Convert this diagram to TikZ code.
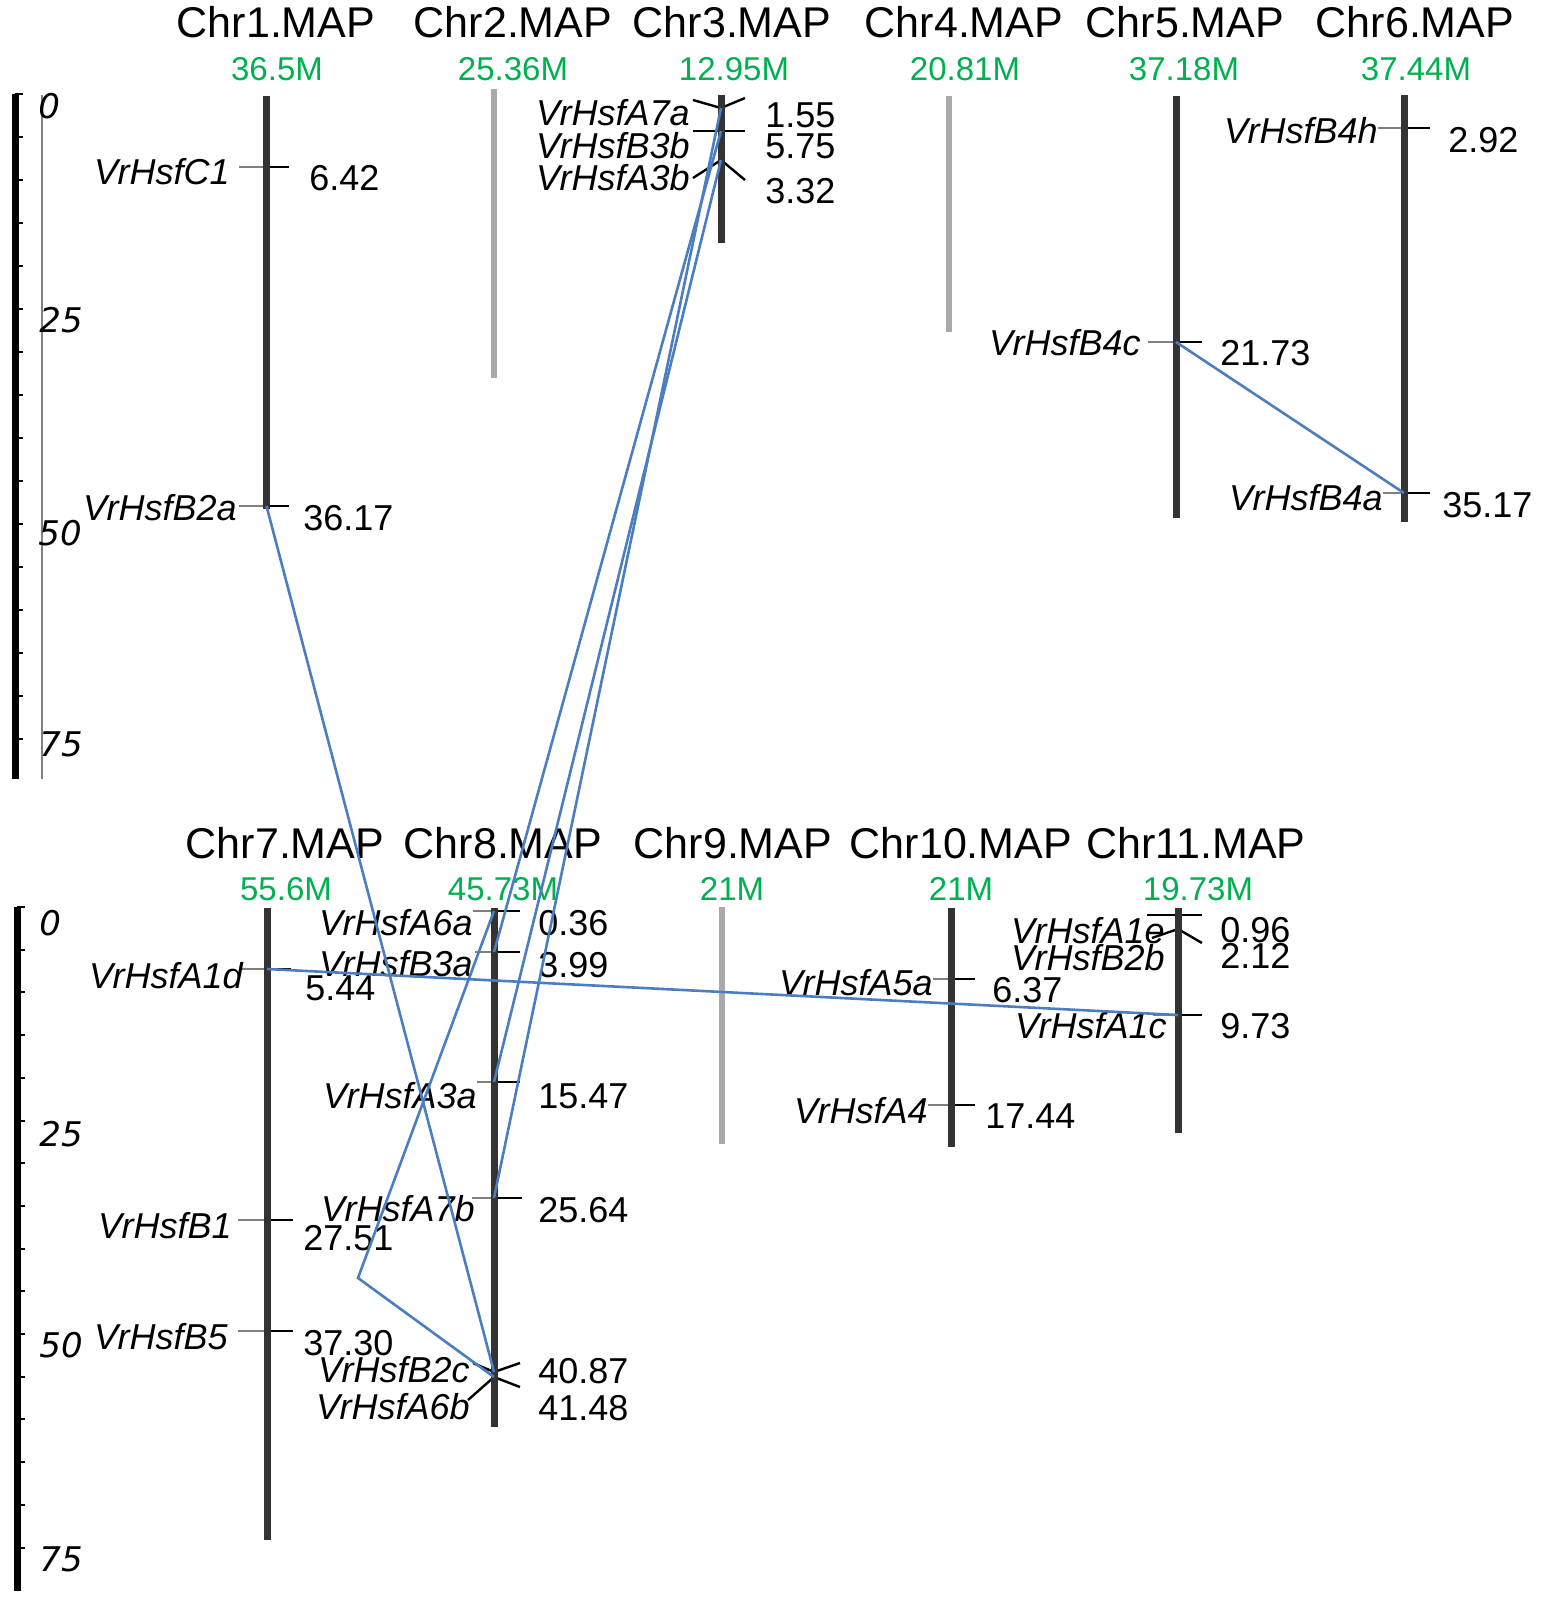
\documentclass[tikz,border=0pt]{standalone}
\usepackage{fontspec}
\setmainfont{Liberation Sans}
\newfontfamily\scalefont{DejaVu Sans}
\definecolor{linkblue}{RGB}{74,126,193}
\definecolor{sizegreen}{RGB}{0,176,80}
\definecolor{chrdark}{RGB}{51,51,51}
\definecolor{chrlight}{RGB}{170,170,170}

\begin{document}
\begin{tikzpicture}[x=0.5pt,y=-0.5pt,
    chrom/.style={line width=3.5pt,chrdark},
    chromlight/.style={line width=3pt,chrlight},
    tickline/.style={line width=1.2pt,black},
    leadline/.style={line width=0.8pt,gray},
    linkline/.style={line width=1.3pt,linkblue},
    chrtitle/.style={anchor=base,inner sep=0pt,font=\fontsize{21.5}{24}\selectfont},
    chrsize/.style={anchor=base,inner sep=0pt,text=sizegreen,font=\fontsize{16.5}{19}\selectfont},
    genelab/.style={anchor=base east,inner sep=0pt,font=\fontsize{18}{20}\selectfont\itshape},
    posnum/.style={anchor=base west,inner sep=0pt,font=\fontsize{18}{20}\selectfont},
    scalelab/.style={anchor=base west,inner sep=0pt,font=\fontsize{17}{19}\scalefont\itshape}]
        \useasboundingbox (0,0) rectangle (1541,1597);

        \coordinate (C1)  at (266.5,167);
        \coordinate (B2a) at (266.5,506);
        \coordinate (A7a) at (721,108);
        \coordinate (B3b) at (721,131);
        \coordinate (A3b) at (721,160);
        \coordinate (B4c) at (1176,342);
        \coordinate (B4h) at (1404,128);
        \coordinate (B4a) at (1404,493);
        \coordinate (A1d) at (267,969);
        \coordinate (B1)  at (267,1220);
        \coordinate (B5)  at (267,1331);
        \coordinate (A6a) at (494,911);
        \coordinate (B3a) at (494,952);
        \coordinate (A3a) at (494,1082);
        \coordinate (A7b) at (494,1198);
        \coordinate (B2c) at (494,1372);
        \coordinate (A6b) at (494,1377);
        \coordinate (A6bend) at (358,1278);
        \coordinate (A5a) at (951,979);
        \coordinate (A4)  at (951,1105);
        \coordinate (A1e) at (1178,915);
        \coordinate (B2b) at (1178,929);
        \coordinate (A1c) at (1178,1015);

        \draw[line width=3.5pt] (15,94) -- (15,779);
        \foreach \k in {0,...,15}
            \draw[line width=1pt] (15,{94+43*\k}) -- ++(8,0);
        \draw[gray,line width=0.6pt] (42,95) -- (42,779);
        \draw[line width=3.5pt] (17,907) -- (17,1591);
        \foreach \k in {0,...,15}
            \draw[line width=1pt] (17,{907+42.7*\k}) -- ++(8,0);

        \draw[leadline] (C1) -- ++(-28,0);   \draw[tickline] (C1) -- ++(22,0);
        \draw[leadline] (B2a) -- ++(-28,0);  \draw[tickline] (B2a) -- ++(22,0);
        \draw[tickline] (693,100) -- (A7a) -- (745,98);
        \draw[tickline] (693,131) -- (B3b) -- (745,131);
        \draw[tickline] (693,178) -- (A3b) -- (745,180);
        \draw[leadline] (B4c) -- ++(-28,0);  \draw[tickline] (B4c) -- ++(26,0);
        \draw[leadline] (B4h) -- ++(-26,0);  \draw[tickline] (B4h) -- ++(26,0);
        \draw[leadline] (B4a) -- ++(-21,0);  \draw[tickline] (B4a) -- ++(26,0);
        \draw[leadline] (A1d) -- ++(-25,0);  \draw[tickline] (A1d) -- ++(24,0);
        \draw[leadline] (B1) -- ++(-29,0);   \draw[tickline] (B1) -- ++(26,0);
        \draw[leadline] (B5) -- ++(-29,0);   \draw[tickline] (B5) -- ++(26,0);
        \draw[leadline] (A6a) -- ++(-21,0);  \draw[tickline] (A6a) -- ++(26,0);
        \draw[leadline] (B3a) -- ++(-19,0);  \draw[tickline] (B3a) -- ++(26,0);
        \draw[leadline] (A3a) -- ++(-17,0);  \draw[tickline] (A3a) -- ++(26,0);
        \draw[leadline] (A7b) -- ++(-22,0);  \draw[tickline] (A7b) -- ++(28,0);
        \draw[tickline] (473,1363) -- (B2c) -- (520,1363);
        \draw[tickline] (468,1400) -- (A6b) -- (520,1387);
        \draw[leadline] (A5a) -- ++(-18,0);  \draw[tickline] (A5a) -- ++(24,0);
        \draw[leadline] (A4) -- ++(-23,0);   \draw[tickline] (A4) -- ++(24,0);
        \draw[tickline] (1147,915) -- (A1e) -- (1202,915);
        \draw[tickline] (1152,938) -- (B2b) -- (1202,943);
        \draw[leadline] (A1c) -- ++(-25,0);  \draw[tickline] (A1c) -- ++(24,0);

        \draw[chrom]      (266.5,96) -- (266.5,509);
        \draw[chromlight] (494,89)   -- (494,378);
        \draw[chrom]      (721,95)   -- (721,243);
        \draw[chromlight] (949,96)   -- (949,332);
        \draw[chrom]      (1176,96)  -- (1176,518);
        \draw[chrom]      (1404,95)  -- (1404,522);
        \draw[chrom]      (267,908)  -- (267,1540);
        \draw[chrom]      (494,908)  -- (494,1427);
        \draw[chromlight] (722,907)  -- (722,1144);
        \draw[chrom]      (951,908)  -- (951,1147);
        \draw[chrom]      (1178,908) -- (1178,1133);

        \node[chrtitle] (t1)  at (276,37)   {Chr1.MAP};
        \node[chrtitle] (t2)  at (513,37)   {Chr2.MAP};
        \node[chrtitle] (t3)  at (732,37)   {Chr3.MAP};
        \node[chrtitle] (t4)  at (964,37)   {Chr4.MAP};
        \node[chrtitle] (t5)  at (1185,37)  {Chr5.MAP};
        \node[chrtitle] (t6)  at (1415,37)  {Chr6.MAP};
        \node[chrtitle] (t7)  at (285,858)  {Chr7.MAP};
        \node[chrtitle] (t8)  at (503,858)  {Chr8.MAP};
        \node[chrtitle] (t9)  at (733,858)  {Chr9.MAP};
        \node[chrtitle] (t10) at (961,858)  {Chr10.MAP};
        \node[chrtitle] (t11) at (1196,858) {Chr11.MAP};

        \node[chrsize] (s1)  at (277,80)   {36.5M};
        \node[chrsize] (s2)  at (513,80)   {25.36M};
        \node[chrsize] (s3)  at (734,80)   {12.95M};
        \node[chrsize] (s4)  at (965,80)   {20.81M};
        \node[chrsize] (s5)  at (1184,80)  {37.18M};
        \node[chrsize] (s6)  at (1416,80)  {37.44M};
        \node[chrsize] (s7)  at (286,900)  {55.6M};
        \node[chrsize] (s8)  at (503,900)  {45.73M};
        \node[chrsize] (s9)  at (732,900)  {21M};
        \node[chrsize] (s10) at (961,900)  {21M};
        \node[chrsize] (s11) at (1198,900) {19.73M};

        \node[scalelab] (u0)  at (38,118)  {0};
        \node[scalelab] (u25) at (39,332)  {25};
        \node[scalelab] (u50) at (38,545)  {50};
        \node[scalelab] (u75) at (39,756)  {75};
        \node[scalelab] (v0)  at (39,935)  {0};
        \node[scalelab] (v25) at (39,1146) {25};
        \node[scalelab] (v50) at (39,1357) {50};
        \node[scalelab] (v75) at (39,1571) {75};

        \node[genelab] (lC1)  at (230,184)  {VrHsfC1};
        \node[posnum]  (nC1)  at (309,190)  {6.42};
        \node[genelab] (lB2a) at (237,520)  {VrHsfB2a};
        \node[posnum]  (nB2a) at (303,530)  {36.17};
        \node[genelab] (lA7a) at (690,125)  {VrHsfA7a};
        \node[posnum]  (nA7a) at (765,127)  {1.55};
        \node[genelab] (lB3b) at (690,158)  {VrHsfB3b};
        \node[posnum]  (nB3b) at (765,158)  {5.75};
        \node[genelab] (lA3b) at (690,190)  {VrHsfA3b};
        \node[posnum]  (nA3b) at (765,203)  {3.32};
        \node[genelab] (lB4c) at (1141,355) {VrHsfB4c};
        \node[posnum]  (nB4c) at (1220,365) {21.73};
        \node[genelab] (lB4h) at (1378,143) {VrHsfB4h};
        \node[posnum]  (nB4h) at (1448,152) {2.92};
        \node[genelab] (lB4a) at (1383,510) {VrHsfB4a};
        \node[posnum]  (nB4a) at (1442,517) {35.17};

        \node[genelab] (lA1d) at (243,988)  {VrHsfA1d};
        \node[posnum]  (nA1d) at (305,1000) {5.44};
        \node[genelab] (lB1)  at (232,1238) {VrHsfB1};
        \node[posnum]  (nB1)  at (303,1250) {27.51};
        \node[genelab] (lB5)  at (228,1349) {VrHsfB5};
        \node[posnum]  (nB5)  at (303,1355) {37.30};
        \node[genelab] (lA6a) at (473,935)  {VrHsfA6a};
        \node[posnum]  (nA6a) at (538,935)  {0.36};
        \node[genelab] (lB3a) at (473,976)  {VrHsfB3a};
        \node[posnum]  (nB3a) at (538,977)  {3.99};
        \node[genelab] (lA3a) at (477,1108) {VrHsfA3a};
        \node[posnum]  (nA3a) at (538,1108) {15.47};
        \node[genelab] (lA7b) at (475,1221) {VrHsfA7b};
        \node[posnum]  (nA7b) at (538,1222) {25.64};
        \node[genelab] (lB2c) at (470,1382) {VrHsfB2c};
        \node[posnum]  (nB2c) at (538,1383) {40.87};
        \node[genelab] (lA6b) at (470,1419) {VrHsfA6b};
        \node[posnum]  (nA6b) at (538,1420) {41.48};
        \node[genelab] (lA5a) at (933,995)  {VrHsfA5a};
        \node[posnum]  (nA5a) at (992,1002) {6.37};
        \node[genelab] (lA4)  at (928,1123) {VrHsfA4};
        \node[posnum]  (nA4)  at (985,1128) {17.44};
        \node[genelab] (lA1e) at (1165,943) {VrHsfA1e};
        \node[posnum]  (nA1e) at (1220,942) {0.96};
        \node[genelab] (lB2b) at (1165,970) {VrHsfB2b};
        \node[posnum]  (nB2b) at (1220,968) {2.12};
        \node[genelab] (lA1c) at (1167,1038) {VrHsfA1c};
        \node[posnum]  (nA1c) at (1220,1038) {9.73};

        \draw[linkline] (B2a) -- (B2c);
        \draw[linkline] (A7a) -- (A7b);
        \draw[linkline] (B3b) -- (B3a);
        \draw[linkline] (A3b) -- (A3a);
        \draw[linkline] (A6a) -- (A6bend) -- (A6b);
        \draw[linkline] (B4c) -- (B4a);
        \draw[linkline] (A1d) -- (A1c);
    \end{tikzpicture}
\end{document}
